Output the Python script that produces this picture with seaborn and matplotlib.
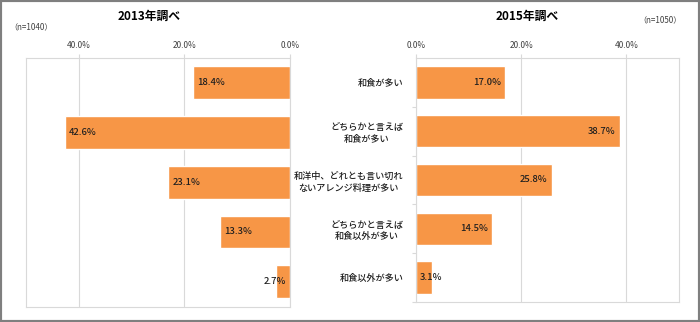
import matplotlib
matplotlib.use("Agg")
import matplotlib.pyplot as plt
from matplotlib.patches import Rectangle
from matplotlib.ticker import FuncFormatter, FixedLocator
import seaborn as sns
import pandas as pd

sns.set_theme(style="white")
plt.rcParams["font.family"] = ["Noto Sans CJK JP", "DejaVu Sans"]

# Survey answers (share of respondents, %)
categories = [
    "和食が多い",
    "どちらかと言えば\n和食が多い",
    "和洋中、どれとも言い切れ\nないアレンジ料理が多い",
    "どちらかと言えば\n和食以外が多い",
    "和食以外が多い",
]
values_2013 = [18.4, 42.6, 23.1, 13.3, 2.7]
values_2015 = [17.0, 38.7, 25.8, 14.5, 3.1]
axis_ticks = [0, 20, 40]
title_2013 = "2013年調べ"
title_2015 = "2015年調べ"
n_2013 = "（n=1040）"
n_2015 = "（n=1050）"

df = pd.DataFrame({"cat": categories, "v2013": values_2013, "v2015": values_2015})

BAR = "#F79646"
GRID = "#D9D9D9"
TXT = "#404040"
W, H = 700, 322

fig = plt.figure(figsize=(W / 100, H / 100), dpi=100)


def px_axes(x0, x1, y0, y1):
    return fig.add_axes([x0 / W, 1 - y1 / H, (x1 - x0) / W, (y1 - y0) / H])


ax_l = px_axes(26, 290, 58, 306.5)
ax_r = px_axes(416, 679, 58, 302)

sns.barplot(data=df, x="v2013", y="cat", color=BAR, width=0.66, ax=ax_l,
            orient="h", saturation=1)
sns.barplot(data=df, x="v2015", y="cat", color=BAR, width=0.66, ax=ax_r,
            orient="h", saturation=1)

fmt = FuncFormatter(lambda v, _: f"{v:.1f}%")
for ax in (ax_l, ax_r):
    ax.set_xlabel("")
    ax.set_ylabel("")
    ax.xaxis.tick_top()
    ax.xaxis.set_major_locator(FixedLocator(axis_ticks))
    ax.xaxis.set_major_formatter(fmt)
    ax.tick_params(axis="x", which="major", top=True, bottom=False, length=3,
                   width=0.8, color=GRID, pad=2.5, labelsize=6, labelcolor=TXT)
    ax.grid(axis="x", color=GRID, linewidth=0.8)
    ax.set_axisbelow(True)
    for s in ax.spines.values():
        s.set_visible(True)
        s.set_color(GRID)
        s.set_linewidth(0.8)

ax_l.set_xlim(50, 0)
ax_r.set_xlim(0, 50)

# left panel: no category labels
ax_l.tick_params(axis="y", left=False, right=False, labelleft=False)

# right panel: category labels on the left, small ticks between categories
ax_r.tick_params(axis="y", which="major", left=False, length=0, pad=9,
                 labelsize=6.6, labelcolor="#1F1F1F")
for lab in ax_r.get_yticklabels():
    lab.set_multialignment("center")
    lab.set_linespacing(1.35)
    lab.set_fontweight("medium")
ax_r.yaxis.set_minor_locator(FixedLocator([0.5, 1.5, 2.5, 3.5, 4.5]))
ax_r.tick_params(axis="y", which="minor", left=True, length=3, width=0.8,
                 color=GRID)

# value labels inside the bar ends
lab_kw = dict(textcoords="offset points", va="center", fontsize=6.8,
              color="#1F1F1F", fontweight="medium")
for i, v in enumerate(values_2013):
    if v >= 6:
        ax_l.annotate(f"{v:.1f}%", (v, i), xytext=(3, 0), ha="left", **lab_kw)
    else:
        ax_l.annotate(f"{v:.1f}%", (0, i), xytext=(-3, 0), ha="right", **lab_kw)
for i, v in enumerate(values_2015):
    if v >= 6:
        ax_r.annotate(f"{v:.1f}%", (v, i), xytext=(-3, 0), ha="right", **lab_kw)
    else:
        ax_r.annotate(f"{v:.1f}%", (0, i), xytext=(3, 0), ha="left", **lab_kw)

# panel titles and sample sizes
fig.text(149 / W, 1 - 16.5 / H, title_2013, ha="center", va="center",
         fontsize=8.5, fontweight="bold", color="black")
fig.text(527 / W, 1 - 16 / H, title_2015, ha="center", va="center",
         fontsize=8.5, fontweight="bold", color="black")
fig.text(9 / W, 1 - 27 / H, n_2013, ha="left", va="center", fontsize=5.8,
         color=TXT)
fig.text(682 / W, 1 - 19.5 / H, n_2015, ha="right", va="center", fontsize=5.8,
         color=TXT)

# outer frame
fig.add_artist(Rectangle((0, 0), 1, 1, transform=fig.transFigure, fill=False,
                         edgecolor="#7F7F7F", linewidth=3))

fig.savefig("out.png", dpi=100)
